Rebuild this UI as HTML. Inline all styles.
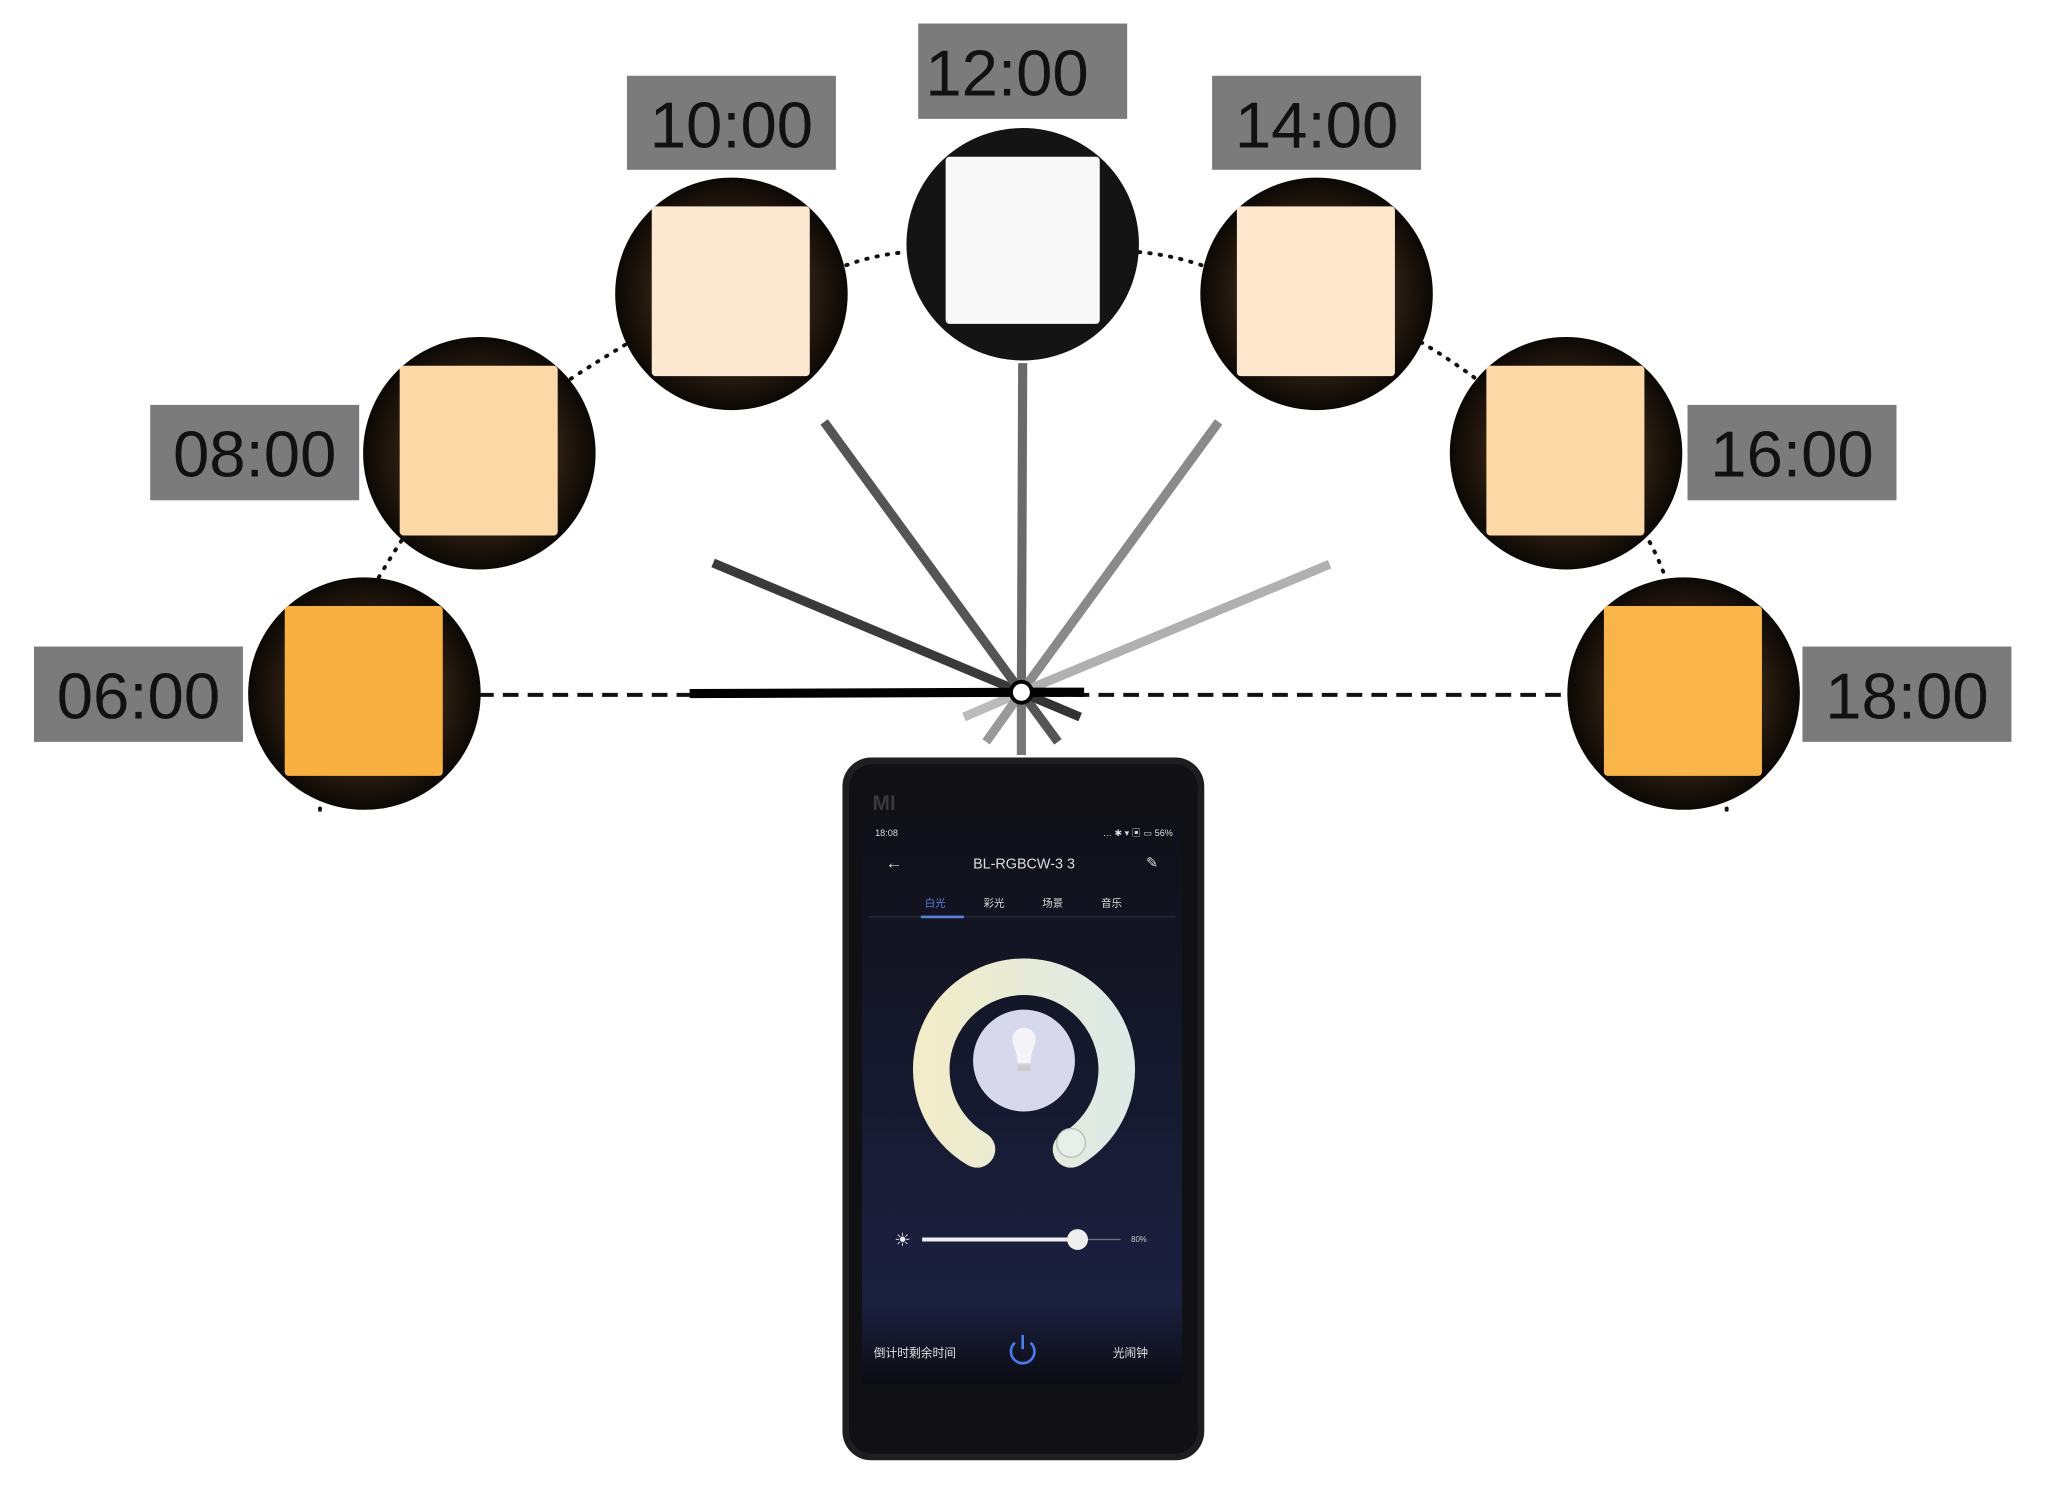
<!DOCTYPE html>
<html><head><meta charset="utf-8"><style>
html,body{margin:0;padding:0;background:#fff;width:2048px;height:1489px;overflow:hidden}
svg{display:block}
.lb{font-family:"Liberation Sans",sans-serif;font-size:50px;fill:#111}
.cn{font-family:"Liberation Sans","Noto Sans CJK SC",sans-serif}
</style></head><body>
<svg width="2048" height="1489" viewBox="0 0 1568 1140" xmlns="http://www.w3.org/2000/svg">
<defs>
<radialGradient id="cg" cx="50%" cy="50%" r="50%"><stop offset="0.7" stop-color="#2a1c10"/><stop offset="1" stop-color="#0b0805"/></radialGradient>
<linearGradient id="scr" x1="0" y1="0" x2="0" y2="1"><stop offset="0" stop-color="#101018"/><stop offset="0.5" stop-color="#161a30"/><stop offset="0.85" stop-color="#1c2040"/><stop offset="1" stop-color="#0c0c14"/></linearGradient>
<linearGradient id="ring" x1="0" y1="0" x2="1" y2="0"><stop offset="0" stop-color="#f1ecc9"/><stop offset="1" stop-color="#dfeae6"/></linearGradient>
</defs>
<!-- dotted arcs -->
<g fill="none" stroke="#111" stroke-width="3" stroke-dasharray="1 7" stroke-linecap="round">
<path d="M290 442 Q300 425 310 410"/>
<path d="M437 290 Q460 275 482 262"/>
<path d="M648 203 Q670 195 694 193"/>
<path d="M872 193 Q896 195 920 203"/>
<path d="M1088 262 Q1110 275 1130 290"/>
<path d="M1263 415 Q1270 428 1275 442"/>
<path d="M245 620 L245 618"/><path d="M1322 620 L1322 618"/>
</g>
<!-- dashed line -->
<line x1="366" y1="532" x2="1200" y2="532" stroke="#111" stroke-width="3" stroke-dasharray="12 7"/>
<!-- clock hands -->
<g stroke-width="7" stroke-linecap="butt">
<line x1="782" y1="530" x2="546" y2="431" stroke="#3a3a3a"/>
<line x1="782" y1="530" x2="631" y2="323" stroke="#555"/>
<line x1="782" y1="530" x2="783" y2="278" stroke="#6a6a6a"/>
<line x1="782" y1="530" x2="933" y2="323" stroke="#8a8a8a"/>
<line x1="782" y1="530" x2="1018" y2="432" stroke="#b0b0b0"/>
<line x1="782" y1="530" x2="738" y2="549" stroke="#bbb"/>
<line x1="782" y1="530" x2="755" y2="568" stroke="#999"/>
<line x1="782" y1="530" x2="782" y2="578" stroke="#777"/>
<line x1="782" y1="530" x2="810" y2="568" stroke="#555"/>
<line x1="782" y1="530" x2="827" y2="549" stroke="#333"/>
<line x1="782" y1="530" x2="528" y2="531" stroke="#000"/>
<line x1="782" y1="530" x2="830" y2="530" stroke="#000"/>
</g>
<circle cx="782" cy="530" r="8" fill="#fff" stroke="#000" stroke-width="3"/>
<!-- lamp circles -->
<g>
<circle cx="279" cy="531" r="89" fill="url(#cg)"/><rect x="218" y="464" width="121" height="130" rx="3" fill="#f8b140"/>
<circle cx="367" cy="347" r="89" fill="url(#cg)"/><rect x="306" y="280" width="121" height="130" rx="3" fill="#fbd8a6"/>
<circle cx="560" cy="225" r="89" fill="url(#cg)"/><rect x="499" y="158" width="121" height="130" rx="3" fill="#fce8d0"/>
<circle cx="783" cy="187" r="89" fill="#141414"/><rect x="724" y="120" width="118" height="128" rx="3" fill="#f8f8f8"/>
<circle cx="1008" cy="225" r="89" fill="url(#cg)"/><rect x="947" y="158" width="121" height="130" rx="3" fill="#fce6cc"/>
<circle cx="1199" cy="347" r="89" fill="url(#cg)"/><rect x="1138" y="280" width="121" height="130" rx="3" fill="#fbd8a6"/>
<circle cx="1289" cy="531" r="89" fill="url(#cg)"/><rect x="1228" y="464" width="121" height="130" rx="3" fill="#f9b44a"/>
</g>
<!-- labels -->
<g fill="#7b7b7b">
<rect x="26" y="495" width="160" height="73"/>
<rect x="115" y="310" width="160" height="73"/>
<rect x="480" y="58" width="160" height="72"/>
<rect x="703" y="18" width="160" height="73"/>
<rect x="928" y="58" width="160" height="72"/>
<rect x="1292" y="310" width="160" height="73"/>
<rect x="1380" y="495" width="160" height="73"/>
</g>
<g class="lb" text-anchor="middle">
<text x="106" y="550">06:00</text>
<text x="195" y="365">08:00</text>
<text x="560" y="113">10:00</text>
<text x="771" y="73">12:00</text>
<text x="1008" y="113">14:00</text>
<text x="1372" y="365">16:00</text>
<text x="1460" y="550">18:00</text>
</g>
<!-- phone -->
<rect x="645" y="580" width="277" height="538" rx="22" fill="#1e1e20"/>
<rect x="650" y="585" width="267" height="528" rx="18" fill="#111113"/>
<text x="668" y="620" font-family="Liberation Sans" font-size="16" font-weight="bold" fill="#3a3a3a">MI</text>
<rect x="660" y="625" width="245" height="435" fill="url(#scr)"/>
<g class="cn" fill="#ddd">
<text x="670" y="640" font-size="7">18:08</text>
<text x="898" y="640" font-size="7" text-anchor="end">… ✱ ▾ ▣ ▭ 56%</text>
<text x="678" y="665" font-size="13">←</text>
<text x="784" y="665" font-size="11" text-anchor="middle">BL-RGBCW-3 3</text>
<text x="882" y="664" font-size="11" text-anchor="middle">✎</text>
<text x="716" y="694" font-size="8" text-anchor="middle" fill="#5a7fe0">白光</text>
<text x="761" y="694" font-size="8" text-anchor="middle">彩光</text>
<text x="806" y="694" font-size="8" text-anchor="middle">场景</text>
<text x="851" y="694" font-size="8" text-anchor="middle">音乐</text>
</g>
<line x1="665" y1="702" x2="900" y2="702" stroke="#2a2c3c" stroke-width="1"/>
<line x1="705" y1="702" x2="738" y2="702" stroke="#5a7fe0" stroke-width="2"/>
<path d="M748 880 A71 71 0 1 1 820 880" fill="none" stroke="url(#ring)" stroke-width="28" stroke-linecap="round"/>
<circle cx="820" cy="875" r="11" fill="#e8eee8" stroke="#bbb" stroke-width="1"/>
<circle cx="784" cy="812" r="39" fill="#d8d8ec"/>
<path d="M776 800 a9 9 0 1 1 16 0 q-3 8 -3 14 h-10 q0 -6 -3 -14z" fill="#f4f4f8"/>
<rect x="779" y="815" width="10" height="5" fill="#ccc"/>
<text x="691" y="954" font-size="14" fill="#eee" text-anchor="middle" font-family="DejaVu Sans">☀</text>
<line x1="706" y1="949" x2="825" y2="949" stroke="#eee" stroke-width="3"/>
<line x1="825" y1="949" x2="858" y2="949" stroke="#777" stroke-width="1"/>
<circle cx="825" cy="949" r="8" fill="#eee"/>
<text x="872" y="951" font-size="6" fill="#ccc" font-family="Liberation Sans" text-anchor="middle">80%</text>
<g class="cn" fill="#e0e0e0" font-size="9">
<text x="669" y="1039">倒计时剩余时间</text>
<text x="852" y="1039">光闹钟</text>
</g>
<path d="M777 1028 a9 9 0 1 0 12 0" fill="none" stroke="#4a7cf0" stroke-width="2"/>
<line x1="783" y1="1022" x2="783" y2="1033" stroke="#4a7cf0" stroke-width="2"/>
</svg>
</body></html>
